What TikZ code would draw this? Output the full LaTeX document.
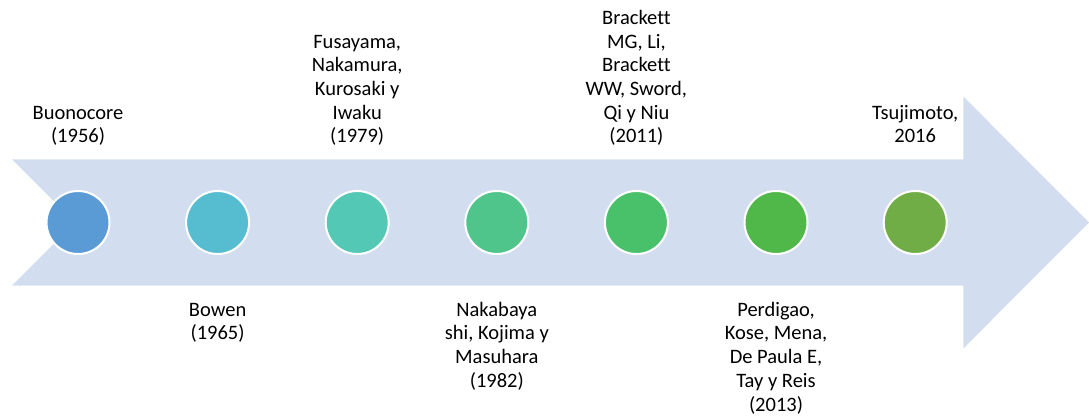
\documentclass[tikz,border=0pt]{standalone}
\usepackage{fontspec}
\setmainfont[Ligatures={NoCommon,NoRequired,NoContextual}]{Carlito}
\definecolor{arrowc}{HTML}{D2DEEF}
\definecolor{col1}{HTML}{5B9BD5}
\definecolor{col2}{HTML}{56BCCF}
\definecolor{col3}{HTML}{53C9B5}
\definecolor{col4}{HTML}{4FC48B}
\definecolor{col5}{HTML}{49C06A}
\definecolor{col6}{HTML}{50B848}
\definecolor{col7}{HTML}{70AD47}
\newcommand{\firstl}{\vrule height 16pt depth 0pt width 0pt}
\begin{document}
\begin{tikzpicture}[x=1pt,y=-1pt,
  dot/.style={circle, minimum size=63pt, inner sep=0pt, draw=white, line width=2pt},
  lbl/.style={align=center, inner sep=0pt, text=black, font=\fontsize{20.5}{23.7}\selectfont},
  toplbl/.style={lbl, anchor=south, text depth=0pt},
  botlbl/.style={lbl, anchor=north}]
\useasboundingbox (0,0) rectangle (1089,415);
\fill[arrowc] (12,159.3) -- (963.3,159.3) -- (963.3,96.5) -- (1089,222.5) -- (963.3,348.5) -- (963.3,285.7) -- (12,285.7) -- (75.2,222.5) -- cycle;
\node[dot, fill=col1] (c1) at (78,222.5) {};
\node[dot, fill=col2] (c2) at (217.6,222.5) {};
\node[dot, fill=col3] (c3) at (357.2,222.5) {};
\node[dot, fill=col4] (c4) at (496.8,222.5) {};
\node[dot, fill=col5] (c5) at (636.4,222.5) {};
\node[dot, fill=col6] (c6) at (776,222.5) {};
\node[dot, fill=col7] (c7) at (915.2,222.5) {};
\node[toplbl] (t1) at (78,143) {Buonocore\\(1956)};
\node[botlbl] (t2) at (217.6,300) {\firstl Bowen\\(1965)};
\node[toplbl] (t3) at (357.2,143) {Fusayama,\\Nakamura,\\Kurosaki y\\Iwaku\\(1979)};
\node[botlbl] (t4) at (496.8,300) {\firstl Nakabaya\\shi, Kojima y\\Masuhara\\(1982)};
\node[toplbl] (t5) at (636.4,143) {Brackett\\MG, Li,\\Brackett\\WW, Sword,\\Qi y Niu\\(2011)};
\node[botlbl] (t6) at (776,300) {\firstl Perdigao,\\Kose, Mena,\\De Paula E,\\Tay y Reis\\(2013)};
\node[toplbl] (t7) at (915.2,143) {Tsujimoto,\\2016};
\end{tikzpicture}
\end{document}
